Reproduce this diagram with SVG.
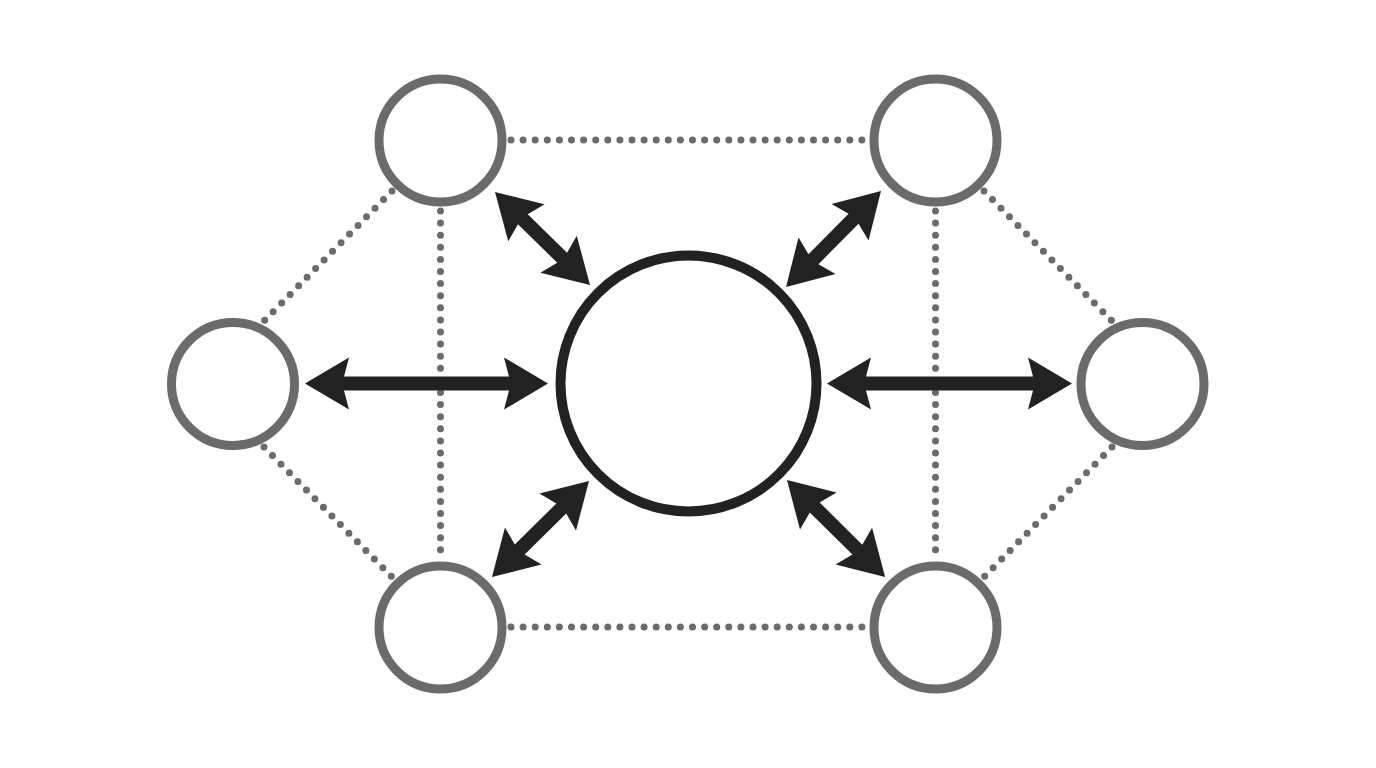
<svg xmlns="http://www.w3.org/2000/svg" width="1376" height="768" viewBox="0 0 1376 768">
<style>
.dot{fill:none;stroke:#6b6b6b;stroke-width:7;stroke-linecap:round;stroke-dasharray:0 12.1}
.node{fill:#fff;stroke:#6b6b6b;stroke-width:9}
.hub{fill:#fff;stroke:#222;stroke-width:10}
.arr{fill:#222}
</style>
<rect width="1376" height="768" fill="#fff"/>
<g id="connectors">
<line class="dot" x1="511" y1="140" x2="865" y2="140"/>
<line class="dot" x1="511" y1="627" x2="865" y2="627"/>
<line class="dot" x1="440.5" y1="211" x2="440.5" y2="557"/>
<line class="dot" x1="935.5" y1="211" x2="935.5" y2="557"/>
<line class="dot" x1="392" y1="191" x2="264" y2="321"/>
<line class="dot" x1="264" y1="447" x2="392" y2="577"/>
<line class="dot" x1="984" y1="191" x2="1112" y2="321"/>
<line class="dot" x1="1112" y1="447" x2="984" y2="577"/>
<polygon class="arr" transform="translate(305,383.5)" points="0,0 44,-26 39,-7 204,-7 199,-26 243,0 199,26 204,7 39,7 44,26"/>
<polygon class="arr" transform="translate(827,383.5)" points="0,0 44,-26 39,-7 206,-7 201,-26 245,0 201,26 206,7 39,7 44,26"/>
<polygon class="arr" transform="translate(495,192) rotate(44.4)" points="0,0 44,-26 39,-7 94,-7 89,-26 133,0 89,26 94,7 39,7 44,26"/>
<polygon class="arr" transform="translate(881,191) rotate(134.7)" points="0,0 44,-26 39,-7 96,-7 91,-26 135,0 91,26 96,7 39,7 44,26"/>
<polygon class="arr" transform="translate(589,481) rotate(135.3)" points="0,0 44,-26 39,-7 97.5,-7 92.5,-26 136.5,0 92.5,26 97.5,7 39,7 44,26"/>
<polygon class="arr" transform="translate(787,480) rotate(44.7)" points="0,0 44,-26 39,-7 99,-7 94,-26 138,0 94,26 99,7 39,7 44,26"/>
</g>
<g id="hub"><circle class="hub" cx="688.5" cy="383.5" r="128"/></g>
<g id="node-tl"><circle class="node" cx="440.5" cy="140.5" r="61.5"/></g>
<g id="node-tr"><circle class="node" cx="935.5" cy="140.5" r="61.5"/></g>
<g id="node-l"><circle class="node" cx="233" cy="384" r="61.5"/></g>
<g id="node-r"><circle class="node" cx="1142.5" cy="384" r="61.5"/></g>
<g id="node-bl"><circle class="node" cx="440.5" cy="627.5" r="61.5"/></g>
<g id="node-br"><circle class="node" cx="935.5" cy="627.5" r="61.5"/></g>
</svg>
